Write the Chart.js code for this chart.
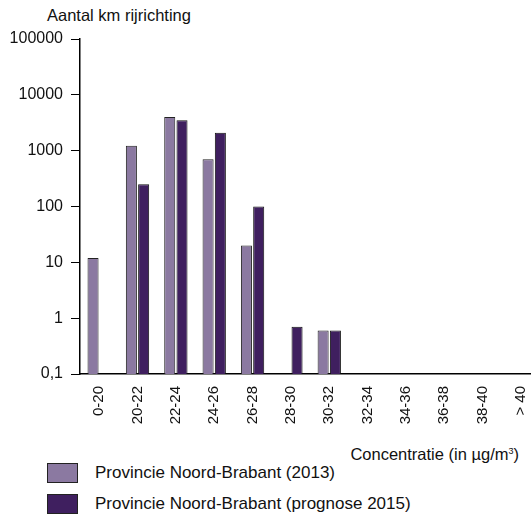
<!DOCTYPE html>
<html lang="nl">
<head>
    <meta charset="UTF-8">
    <title>Aantal km rijrichting per concentratieklasse</title>
    <script src="https://cdn.jsdelivr.net/npm/chart.js"></script>
    <style>
        body { margin: 0; background: #fff; font-family: Arial, "Liberation Sans", sans-serif; color: #111; }
        #wrap { position: relative; width: 531px; height: 514px; overflow: hidden; }
        #chartBox { position: absolute; left: 0; top: 0; width: 543px; height: 430px; }
        .ytitle { position: absolute; left: 47px; top: 6px; font-size: 16.5px; }
        .xtitle { position: absolute; right: 12px; top: 445px; font-size: 16.5px; }
        .xtitle sup { font-size: 9px; }
        #legend { position: absolute; left: 47px; top: 463px; font-size: 17px; }
        .item { display: flex; align-items: center; height: 20px; margin-bottom: 11px; }
        .box { width: 29px; height: 18px; border: 1px solid #222; margin-right: 17px; }
    </style>
</head>
<body>
<div id="wrap">
    <div class="ytitle">Aantal km rijrichting</div>
    <div id="chartBox"><canvas id="kmChart"></canvas></div>
    <div class="xtitle">Concentratie (in µg/m<sup>3</sup>)</div>
    <div id="legend"></div>
</div>
<script>
// concentratieklassen (µg/m3)
const klassen = ['0-20', '20-22', '22-24', '24-26', '26-28', '28-30', '30-32', '32-34', '34-36', '36-38', '38-40', '> 40'];
// km rijrichting, 0 = geen (null, niet te tekenen op log-as)
const km2013 = [12, 1230, 4000, 700, 20, null, 0.6, null, null, null, null, null];
const km2015 = [null, 250, 3500, 2100, 100, 0.7, 0.6, null, null, null, null, null];
const yTicks = [0.1, 1, 10, 100, 1000, 10000, 100000];
const yTickLabels = ['0,1', '1', '10', '100', '1000', '10000', '100000'];

const ctx = document.getElementById('kmChart').getContext('2d');
const chart = new Chart(ctx, {
    type: 'bar',
    data: {
        labels: klassen,
        datasets: [
            { label: 'Provincie Noord-Brabant (2013)', data: km2013, backgroundColor: '#8b79a1', borderColor: '#222', borderWidth: 1 },
            { label: 'Provincie Noord-Brabant (prognose 2015)', data: km2015, backgroundColor: '#3f1f5f', borderColor: '#111', borderWidth: 1 }
        ]
    },
    options: {
        responsive: true,
        maintainAspectRatio: false,
        animation: false,
        categoryPercentage: 0.64,
        barPercentage: 0.9,
        layout: { padding: { top: 39, left: 0, right: 0, bottom: 0 } },
        plugins: { legend: { display: false }, tooltip: { enabled: false } },
        scales: {
            x: {
                grid: { display: false },
                border: { color: '#000', width: 1.5 },
                ticks: { color: '#111', font: { family: 'Arial', size: 15 }, minRotation: 90, maxRotation: 90, padding: 4 },
                afterFit: s => { s.height = 56; }
            },
            y: {
                type: 'logarithmic',
                min: 0.1,
                max: 100000,
                grid: { drawOnChartArea: false, tickLength: 9, color: '#000' },
                border: { color: '#000', width: 1.5 },
                afterBuildTicks: s => { s.ticks = yTicks.map(v => ({ value: v })); },
                ticks: {
                    color: '#111',
                    font: { family: 'Arial', size: 16 },
                    padding: 8,
                    callback: v => yTickLabels[yTicks.indexOf(v)]
                },
                afterFit: s => { s.width = 80; }
            }
        }
    }
});

// legenda in html
const legend = document.getElementById('legend');
chart.data.datasets.forEach(ds => {
    const row = document.createElement('div');
    row.className = 'item';
    row.innerHTML = '<span class="box" style="background:' + ds.backgroundColor + '"></span>' + ds.label;
    legend.appendChild(row);
});
</script>
</body>
</html>
